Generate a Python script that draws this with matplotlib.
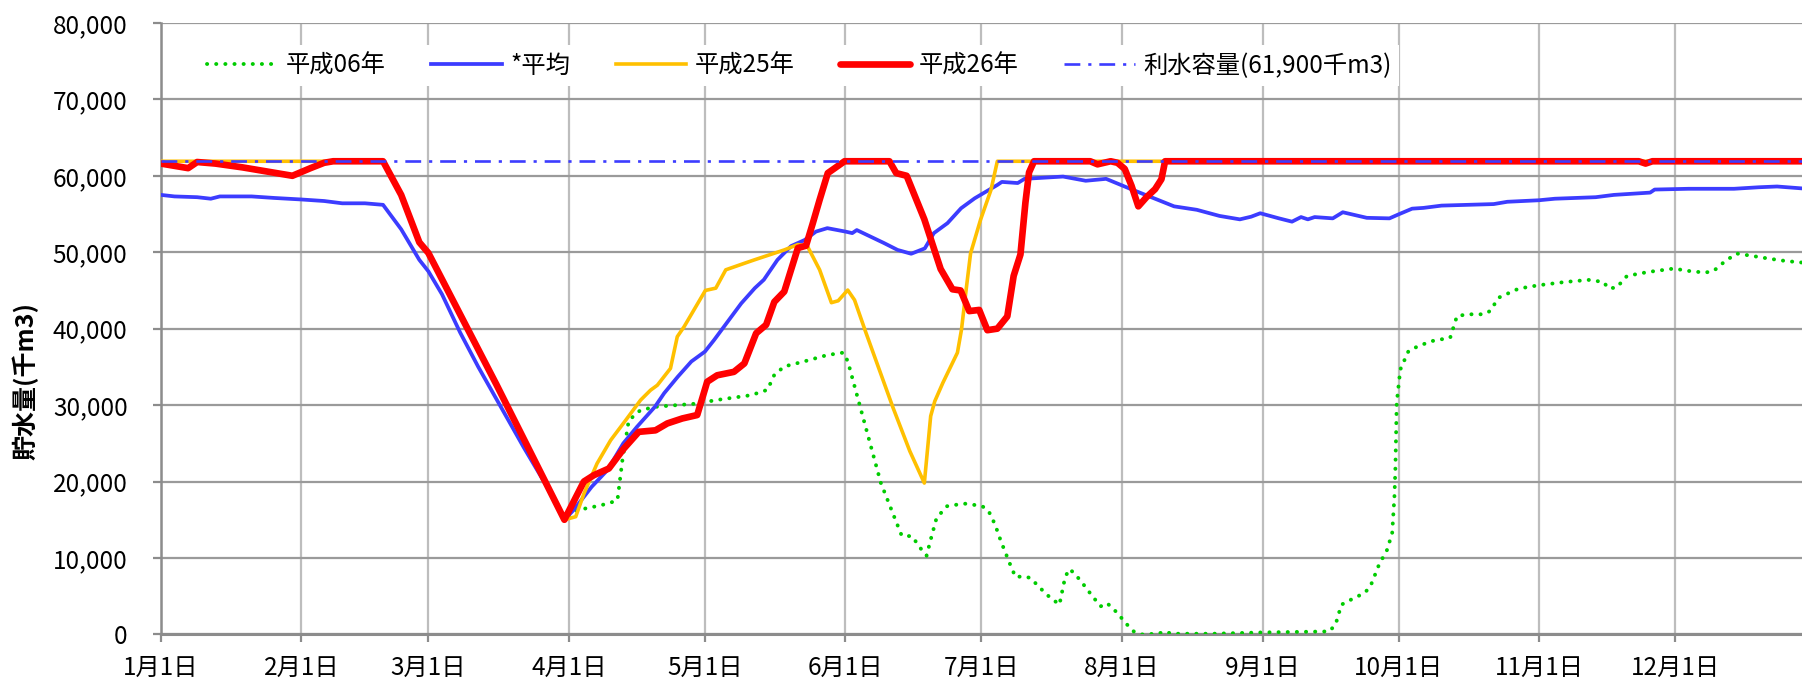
import matplotlib
matplotlib.use("Agg")
import matplotlib.pyplot as plt
from matplotlib.ticker import FuncFormatter, FixedLocator

plt.rcParams['font.family'] = ['Noto Sans CJK JP', 'DejaVu Sans']

# ---- data (x = day of year, 0 = 1月1日; values in 千m3) ----
month_days = [0, 31, 59, 90, 120, 151, 181, 212, 243, 273, 304, 334]
month_labels = ["1月1日", "2月1日", "3月1日", "4月1日", "5月1日", "6月1日",
                "7月1日", "8月1日", "9月1日", "10月1日", "11月1日", "12月1日"]
y_ticks = [0, 10000, 20000, 30000, 40000, 50000, 60000, 70000, 80000]
capacity = 61900

h06_day = [90, 91.8, 95.5, 98.5, 100.7, 101.8, 103.2, 105.8, 109.5, 118.3, 122.4, 130.2, 133.8,
           135.3, 137.5, 141.8, 147, 150.5, 151.5, 153.3, 156, 158.8, 162, 163.4, 165.7, 167.5,
           168.9, 169.8, 171.1, 173.4, 177.1, 178.9, 181.2, 182.6, 184, 185.3, 187.2, 188.5,
           190.4, 191.8, 195.4, 198.2, 199.5, 200.5, 202.7, 205.5, 207.3, 208.7, 211, 212.8,
           214.6, 216.5, 220, 221.5, 222.9, 232, 243, 257.7, 259.1, 260.4, 263.2, 265.5, 266.8,
           268.7, 270.5, 271.6, 272.1, 272.3, 272.6, 273.4, 275.2, 277.4, 280.4, 284.4, 285.9,
           288.4, 291.8, 293.2, 295.1, 299.5, 303.9, 309.8, 314.9, 318.2, 319.3, 321.1, 323.4,
           328.1, 333.7, 337, 340.6, 342.5, 345.1, 347.6, 351, 354.6, 358.3, 362]
h06_val = [15500, 16250, 16700, 17100, 17550, 22800, 28000, 29350, 29800, 30200, 30650, 31300, 32000,
           33950, 35050, 35700, 36550, 36860, 35760, 31830, 25940, 19830, 15020, 12930, 12840, 11310,
           10300, 12400, 15240, 16770, 17120, 16990, 16770, 16110, 14370, 12180, 9340, 7510,
           7600, 7380, 5200, 3890, 7600, 8560, 7160, 4980, 3670, 4100, 2800, 1480,
           390, 0, 100, 390, 90, 90, 260, 390, 1270, 3890, 4760, 5410, 6290,
           9130, 11090, 13280, 18080, 21570, 30300, 34670, 37070, 37730, 38380, 38820, 41660,
           41880, 41880, 42310, 44060, 45240, 45680, 46110, 46380, 46110, 45280, 45370, 46900,
           47420, 47860, 47550, 47330, 47550, 48860, 49830, 49520, 49170, 48860, 48650]

avg_day = [0, 3, 8, 11, 13, 20, 25, 31, 36, 40, 45, 49, 53, 57, 59, 62, 66, 70, 74, 80, 85, 89,
           91, 95, 98.5, 102, 105, 109, 111, 114, 117, 120, 122, 125, 128, 131, 133, 136, 139, 142,
           144.5, 147, 151, 152.5, 153.5, 156.5, 159.5, 162.5, 165.5, 168.5, 170.5, 173.5, 176.5,
           179.5, 184.5, 185.5, 189, 190.5, 199, 204, 208.5, 214, 219.5, 223.5, 228.5, 233.5, 238,
           240.5, 242.5, 246.5, 249.5, 251.5, 253, 254.5, 258.5, 260.7, 266, 271, 273, 276, 278.5,
           282.5, 294, 297, 304, 307.5, 316.5, 320.5, 328.5, 329.5, 337, 347, 352.5, 356.5, 362]
avg_val = [57500, 57300, 57200, 57000, 57300, 57300, 57100, 56900, 56700, 56400, 56400, 56200, 53000,
           49000, 47500, 44500, 39500, 35000, 30800, 24500, 19500, 15000,
           16250, 19300, 21500, 25000, 27150, 29800, 31550, 33700, 35700, 37000, 38500, 40900, 43300,
           45300, 46400, 49000, 50800, 51600, 52700, 53150, 52700, 52500, 52900, 52050, 51200, 50300,
           49800, 50500, 52500, 53800, 55750, 57050, 58800, 59200, 59050, 59600, 59900, 59350, 59600,
           58250, 56950, 56000, 55550, 54750, 54300, 54650, 55100, 54450, 54000, 54600, 54300, 54600,
           54430, 55230, 54500, 54430, 54950, 55700, 55800, 56100, 56300, 56600, 56800, 57000, 57200,
           57500, 57800, 58200, 58300, 58300, 58500, 58600, 58350]

h25_day = [0, 49, 53, 57, 59, 74, 89, 91.5, 93.3, 96.2, 99.2, 102.5, 105.8, 108, 109.5, 112.4, 113.9,
           115.4, 120.1, 122.4, 124.6, 128.7, 130.9, 137.5, 140.5, 142.6, 145.3, 147.9, 149.4, 151.5,
           153, 155.5, 161.5, 165.2, 168.4, 169.8, 170.7, 172.5, 175.7, 176.6, 177.6, 178.6, 180.8,
           183.1, 184.5, 362]
h25_val = [61900, 61900, 57500, 51300, 49900, 32700, 15000, 15400, 18400, 22350, 25400, 28000, 30650,
           31950, 32600, 34800, 38950, 40250, 45000, 45300, 47700, 48550, 49000, 50300, 51000, 50800,
           47700, 43400, 43650, 45050, 43750, 39500, 29650, 23970, 19800, 28560, 30500, 32930, 36860,
           39900, 45000, 49850, 54250, 58150, 61900, 61900]

h26_day = [0, 3, 6, 8, 12, 18, 24, 29, 31, 33, 36, 38, 49, 53, 57, 59, 74, 89, 93.3, 95.5, 98.8, 102.1,
           105.4, 109.1, 111.7, 115, 118.3, 120.5, 122.7, 126.4, 128.7, 131.3, 133.5, 135.3, 137.5,
           140.5, 142.3, 143.8, 145.3, 147.1, 150.8, 160.7, 162.2, 164.5, 168.4, 172, 174.6, 176.4,
           178.3, 180.5, 182.3, 184.5, 186.7, 188.1, 189.6, 190.7, 191.5, 192.6, 205, 206.6, 209.5,
           211, 212.6, 214.1, 215.6, 217.4, 219.3, 220.7, 221.5, 326, 327.5, 329, 362]
h26_val = [61600, 61300, 61000, 61800, 61600, 61100, 60500, 60000, 60500, 61000, 61700, 61900, 61900,
           57500, 51300, 49900, 32700, 15000, 20000, 20830, 21700, 24300, 26500, 26700, 27600, 28250,
           28700, 33050, 33900, 34350, 35450, 39400, 40500, 43500, 44850, 50550, 50850, 53800, 56850,
           60350, 61900, 61900, 60350, 60000, 54300, 47800, 45150, 45000, 42300, 42450, 39800, 40000,
           41600, 46900, 49700, 56500, 60450, 61900, 61900, 61500, 61900, 61700, 60900, 58700, 56000,
           57200, 58250, 59550, 61900, 61900, 61600, 61900, 61900]

x_max = 362

# ---- figure ----
fig = plt.figure(figsize=(18.02, 6.84), dpi=100)
ax = fig.add_axes([0.0893, 0.0725, 0.9107, 0.894])

ax.plot(h06_day, h06_val, color='#00cc00', lw=2.8, linestyle=(0, (0.05, 2.3)),
        dash_capstyle='round', label='平成06年', zorder=3)
ax.plot(avg_day, avg_val, color='#3c3cff', lw=2.7, label='*平均', zorder=4,
        solid_joinstyle='round')
ax.plot(h25_day, h25_val, color='#ffc000', lw=2.6, label='平成25年', zorder=5,
        solid_joinstyle='round')
ax.plot(h26_day, h26_val, color='#ff0000', lw=4.8, label='平成26年', zorder=6,
        solid_joinstyle='round', solid_capstyle='round')
ax.plot([0, x_max], [capacity, capacity], color='#3c3cff', lw=1.9,
        linestyle=(0, (6, 3, 1.2, 3)), label='利水容量(61,900千m3)', zorder=7)

ax.set_xlim(0, x_max)
ax.set_ylim(0, 80000)
ax.xaxis.set_major_locator(FixedLocator(month_days))
ax.set_xticklabels(month_labels)
ax.yaxis.set_major_locator(FixedLocator(y_ticks))
ax.yaxis.set_major_formatter(FuncFormatter(lambda v, p: f"{int(v):,}"))

ax.grid(axis='y', color='#9a9a9a', lw=1.6, zorder=1)
ax.grid(axis='x', color='#bdbdbd', lw=1.6, zorder=1)
ax.set_axisbelow(True)

for s in ['top', 'right']:
    ax.spines[s].set_visible(False)
ax.spines['left'].set_color('#8c8c8c')
ax.spines['left'].set_linewidth(1.8)
ax.spines['bottom'].set_color('#8c8c8c')
ax.spines['bottom'].set_linewidth(2.2)

ax.tick_params(axis='both', direction='out', length=6, width=1.6, color='#8c8c8c',
               labelsize=17.5, labelcolor='black')
ax.tick_params(axis='x', pad=9)
ax.tick_params(axis='y', pad=18)

ax.set_ylabel('貯水量(千m3)', fontsize=18, fontweight='bold')
ax.yaxis.set_label_coords(-0.0745, 0.415)

leg = ax.legend(loc='center', bbox_to_anchor=(0.389, 0.93), ncol=5, frameon=True,
                fontsize=17.5, handlelength=2.9, handletextpad=0.35, columnspacing=1.87,
                borderpad=0.3, fancybox=False)
leg.get_frame().set_facecolor('white')
leg.get_frame().set_edgecolor('none')
leg.get_frame().set_alpha(1)
leg.set_zorder(10)

fig.savefig('out.png', dpi=100)
